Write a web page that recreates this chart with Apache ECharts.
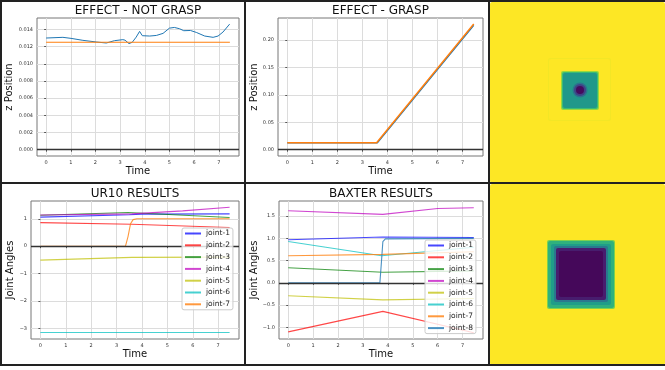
<!DOCTYPE html>
<html>
<head>
<meta charset="utf-8">
<script src="https://cdn.jsdelivr.net/npm/echarts@6/dist/echarts.min.js"></script>
<style>
  html, body { margin: 0; padding: 0; background: #fff; }
  #chart { width: 665px; height: 370px; }
</style>
</head>
<body>
<div id="chart"></div>
<script>
// ---- values ----
const timeTicks = [0, 1, 2, 3, 4, 5, 6, 7];

// EFFECT - NOT GRASP
const notGraspTime = [0, 0.68, 1.01, 1.49, 2.03, 2.44, 2.77, 3.11, 3.2, 3.36, 3.49, 3.65, 3.79, 3.9, 4.2,
  4.47, 4.74, 5.0, 5.2, 5.41, 5.58, 5.85, 6.09, 6.43, 6.77, 6.97, 7.17, 7.44];
const notGraspActual = [0.0130, 0.01308, 0.01296, 0.01273, 0.01254, 0.01242, 0.01269, 0.01281, 0.01275,
  0.01235, 0.0125, 0.0131, 0.01377, 0.01327, 0.01323, 0.0133, 0.01354, 0.01415, 0.01423, 0.01408,
  0.01385, 0.01388, 0.01365, 0.01323, 0.01308, 0.01323, 0.01369, 0.01462];
const notGraspTargetTime = [0, 7.45];
const notGraspTarget = [0.0125, 0.0125];
const notGraspTicks = [0, 0.002, 0.004, 0.006, 0.008, 0.010, 0.012, 0.014];

// EFFECT - GRASP
const graspTime = [0, 3.6, 7.45];
const graspActual = [0.0125, 0.0125, 0.227];
const graspTargetTime = [0, 3.57, 7.45];
const graspTarget = [0.0128, 0.0128, 0.2295];
const graspTicks = [0, 0.05, 0.10, 0.15, 0.20];

// joint angle plots
const jointNames = ['joint-1', 'joint-2', 'joint-3', 'joint-4', 'joint-5', 'joint-6', 'joint-7', 'joint-8'];
const jointColors = ['rgba(0,0,255,0.72)', 'rgba(255,0,0,0.72)', 'rgba(0,128,0,0.72)', 'rgba(191,0,191,0.72)',
  'rgba(191,191,0,0.72)', 'rgba(0,191,191,0.72)', 'rgba(255,127,14,0.8)', 'rgba(31,119,180,0.8)'];

const ur10Times = [
  [0, 3.5, 4.0, 7.45],
  [0, 3.6, 7.45],
  [0, 3.45, 7.45],
  [0, 3.6, 5.6, 7.45],
  [0, 3.6, 7.45],
  [0, 7.45],
  [0, 3.35, 3.45, 3.55, 3.65, 3.8, 7.45]
];
const ur10Values = [
  [1.06, 1.15, 1.17, 1.18],
  [0.86, 0.80, 0.68],
  [1.13, 1.23, 1.045],
  [1.14, 1.18, 1.29, 1.42],
  [-0.51, -0.41, -0.40],
  [-3.15, -3.15],
  [0, 0, 0.35, 0.82, 0.97, 1.0, 1.0]
];
const ur10Ticks = [-3, -2, -1, 0, 1];

const baxterTimes = [
  [0, 3.8, 7.45],
  [0, 3.8, 7.45],
  [0, 3.8, 7.45],
  [0, 3.8, 6.0, 7.45],
  [0, 3.8, 7.45],
  [0, 3.75, 7.45],
  [0, 3.8, 7.45],
  [0, 3.68, 3.74, 3.8, 3.9, 7.45]
];
const baxterValues = [
  [0.97, 1.03, 1.02],
  [-1.10, -0.64, -1.12],
  [0.34, 0.24, 0.27],
  [1.62, 1.54, 1.67, 1.69],
  [-0.29, -0.38, -0.35],
  [0.93, 0.61, 0.80],
  [0.61, 0.64, 0.70],
  [0, 0, 0.45, 0.93, 0.99, 1.0]
];
const baxterTicks = [-1.0, -0.5, 0, 0.5, 1.0, 1.5];

// image panels: [x0, y0, x1, y1, value] in image pixels
const topImageRects = [
  [0, 0, 175, 181, 1.0],
  [58, 56, 121, 119, 0.985],
  [59, 57, 120, 118, 1.0],
  [71, 69, 109, 108, 0.84],
  [72, 70, 108, 107, 0.68],
  [73, 71, 107, 106, 0.53]
];
// [cx, cy, r, value]
const topImageSpots = [
  [90, 88, 7.5, 0.38],
  [90, 88, 6, 0.2],
  [90, 88, 4, 0.03]
];
const bottomImageRects = [
  [0, 0, 175, 181, 1.0],
  [57, 56, 125, 125, 0.8],
  [58, 57, 124, 124, 0.64],
  [61, 60, 121, 121, 0.55],
  [64, 62, 118, 118, 0.4],
  [66, 64, 116, 116, 0.08],
  [69, 67, 113, 113, 0.02]
];

const viridis = ['#440154', '#482878', '#3e4989', '#31688e', '#26828e', '#1f9e89', '#35b779', '#6ece58', '#b5de2b', '#fde725'];

// ---- chart ----
const FONT = 'DejaVu Sans';
const pairs = (t, v) => t.map((x, i) => [x, v[i]]);
const minus = (s) => s.replace('-', '\u2212');

const grids = [
  { left: 37, top: 18, width: 202, height: 138 },
  { left: 278, top: 18, width: 205, height: 138 },
  { left: 31, top: 201, width: 208, height: 138 },
  { left: 279, top: 201, width: 204, height: 138 },
  { left: 490, top: 2, width: 175, height: 181 },
  { left: 490, top: 184, width: 175, height: 181 }
];

function timeAxis(gridIndex) {
  return {
    type: 'value', gridIndex, min: -0.37, max: 7.82,
    axisLine: { show: false },
    axisTick: { show: true, length: 2, customValues: timeTicks, lineStyle: { color: '#555' } },
    axisLabel: { customValues: timeTicks, fontSize: 5, color: '#333', margin: 4, fontFamily: FONT },
    splitLine: { show: true, lineStyle: { color: '#dcdcdc', width: 1 } },
    name: 'Time', nameLocation: 'middle', nameGap: 10,
    nameTextStyle: { fontSize: 10, color: '#111', fontFamily: FONT }
  };
}

function valueAxis(gridIndex, min, max, ticks, fmt, name, nameGap) {
  return {
    type: 'value', gridIndex, min, max,
    axisLine: { show: false },
    axisTick: { show: true, length: 2, customValues: ticks, lineStyle: { color: '#555' } },
    axisLabel: { customValues: ticks, fontSize: 5, color: '#333', margin: 4, fontFamily: FONT, formatter: fmt },
    splitLine: { show: true, lineStyle: { color: '#dcdcdc', width: 1 } },
    name, nameLocation: 'middle', nameRotate: 90, nameGap,
    nameTextStyle: { fontSize: 10, color: '#111', fontFamily: FONT }
  };
}

function zeroLine(xAxisIndex) {
  return {
    type: 'line', xAxisIndex, yAxisIndex: xAxisIndex, data: [], silent: true,
    markLine: {
      silent: true, symbol: 'none', label: { show: false },
      lineStyle: { color: '#333', width: 1.3, type: 'solid' },
      data: [{ yAxis: 0 }]
    }
  };
}

function plotLine(name, axis, data, color, width) {
  return {
    name, type: 'line', xAxisIndex: axis, yAxisIndex: axis, data,
    symbol: 'none', color, lineStyle: { color, width }, silent: true
  };
}

const series = [];
series.push(plotLine('actual', 0, pairs(notGraspTime, notGraspActual), '#1f77b4', 1));
series.push(plotLine('target', 0, pairs(notGraspTargetTime, notGraspTarget), '#ff7f0e', 1.1));
series.push(zeroLine(0));
series.push(plotLine('actual', 1, pairs(graspTime, graspActual), '#1f77b4', 1.3));
series.push(plotLine('target', 1, pairs(graspTargetTime, graspTarget), '#ff7f0e', 1.5));
series.push(zeroLine(1));
ur10Times.forEach((t, i) => series.push(plotLine(jointNames[i], 2, pairs(t, ur10Values[i]), jointColors[i], 1.1)));
series.push(zeroLine(2));
baxterTimes.forEach((t, i) => series.push(plotLine(jointNames[i], 3, pairs(t, baxterValues[i]), jointColors[i], 1.1)));
series.push(zeroLine(3));

function rectItem(params, api) {
  const p0 = api.coord([api.value(0), api.value(1)]);
  const p1 = api.coord([api.value(2), api.value(3)]);
  return {
    type: 'rect',
    shape: { x: p0[0], y: p0[1], width: p1[0] - p0[0], height: p1[1] - p0[1], r: 2 },
    style: { fill: api.visual('color') }
  };
}
function spotItem(params, api) {
  const c = api.coord([api.value(0), api.value(1)]);
  const r = api.size([api.value(2), api.value(2)])[0];
  return { type: 'circle', shape: { cx: c[0], cy: c[1], r }, style: { fill: api.visual('color') } };
}

const rectSeriesIdx = [];
rectSeriesIdx.push(series.length);
series.push({ type: 'custom', xAxisIndex: 4, yAxisIndex: 4, data: topImageRects, renderItem: rectItem,
  encode: { x: [0, 2], y: [1, 3] }, silent: true });
const spotSeriesIdx = series.length;
series.push({ type: 'custom', xAxisIndex: 4, yAxisIndex: 4, data: topImageSpots, renderItem: spotItem,
  encode: { x: 0, y: 1 }, silent: true, z: 3 });
rectSeriesIdx.push(series.length);
series.push({ type: 'custom', xAxisIndex: 5, yAxisIndex: 5, data: bottomImageRects, renderItem: rectItem,
  encode: { x: [0, 2], y: [1, 3] }, silent: true });

const imageAxisX = (gridIndex) => ({ type: 'value', gridIndex, min: 0, max: 175, show: false });
const imageAxisY = (gridIndex) => ({ type: 'value', gridIndex, min: 0, max: 181, inverse: true, show: false });

const fmt3 = (v) => v.toFixed(3);
const fmt2 = (v) => v.toFixed(2);
const fmtInt = (v) => minus(String(Math.round(v)));
const fmt1 = (v) => minus(v.toFixed(1));

const titles = [
  ['EFFECT - NOT GRASP', 138, 11],
  ['EFFECT - GRASP', 380.5, 11],
  ['UR10 RESULTS', 135, 194],
  ['BAXTER RESULTS', 381, 194]
];

const legendStyle = {
  orient: 'vertical', padding: [1, 3, 1, 2], itemWidth: 16, itemHeight: 9, itemGap: 2.8,
  backgroundColor: 'rgba(255,255,255,0.8)', borderColor: '#cccccc', borderWidth: 1, borderRadius: 2,
  textStyle: { fontSize: 7.5, color: '#222', fontFamily: FONT, lineHeight: 9 },
  itemStyle: { opacity: 0 },
  selectedMode: false, z: 10
};

// figure frame lines
const frameLines = [
  [0, 1, 665, 1], [1, 0, 1, 365], [245, 0, 245, 365], [489, 0, 489, 365],
  [0, 183, 665, 183], [0, 365, 665, 365]
];

const option = {
  animation: false,
  backgroundColor: '#ffffff',
  title: titles.map(([text, x, y]) => ({
    text, left: x, top: y, textAlign: 'center', textVerticalAlign: 'middle', padding: 0,
    textStyle: { fontSize: 12, fontWeight: 'normal', color: '#111', fontFamily: FONT }
  })),
  grid: grids.map((g, i) => Object.assign({
    show: i < 4, borderColor: '#777', borderWidth: 1, backgroundColor: 'transparent', containLabel: false
  }, g)),
  xAxis: [timeAxis(0), timeAxis(1), timeAxis(2), timeAxis(3), imageAxisX(4), imageAxisX(5)],
  yAxis: [
    valueAxis(0, -0.00073, 0.01533, notGraspTicks, fmt3, 'z Position', 22),
    valueAxis(1, -0.01145, 0.2405, graspTicks, fmt2, 'z Position', 18),
    valueAxis(2, -3.39, 1.65, ur10Ticks, fmtInt, 'Joint Angles', 16),
    valueAxis(3, -1.26, 1.84, baxterTicks, fmt1, 'Joint Angles', 18),
    imageAxisY(4), imageAxisY(5)
  ],
  legend: [
    Object.assign({ left: 182, top: 228, data: jointNames.slice(0, 7) }, legendStyle),
    Object.assign({ left: 425, top: 240, data: jointNames.slice(0, 8) }, legendStyle)
  ],
  visualMap: [
    { type: 'continuous', show: false, seriesIndex: rectSeriesIdx, dimension: 4, min: 0, max: 1,
      inRange: { color: viridis } },
    { type: 'continuous', show: false, seriesIndex: spotSeriesIdx, dimension: 3, min: 0, max: 1,
      inRange: { color: viridis } }
  ],
  graphic: frameLines.map(([x1, y1, x2, y2]) => ({
    type: 'line', z: 100, silent: true,
    shape: { x1, y1, x2, y2 }, style: { stroke: '#222', lineWidth: 2 }
  })),
  series
};

const chart = echarts.init(document.getElementById('chart'), null, { renderer: 'canvas' });
chart.setOption(option);
</script>
</body>
</html>
